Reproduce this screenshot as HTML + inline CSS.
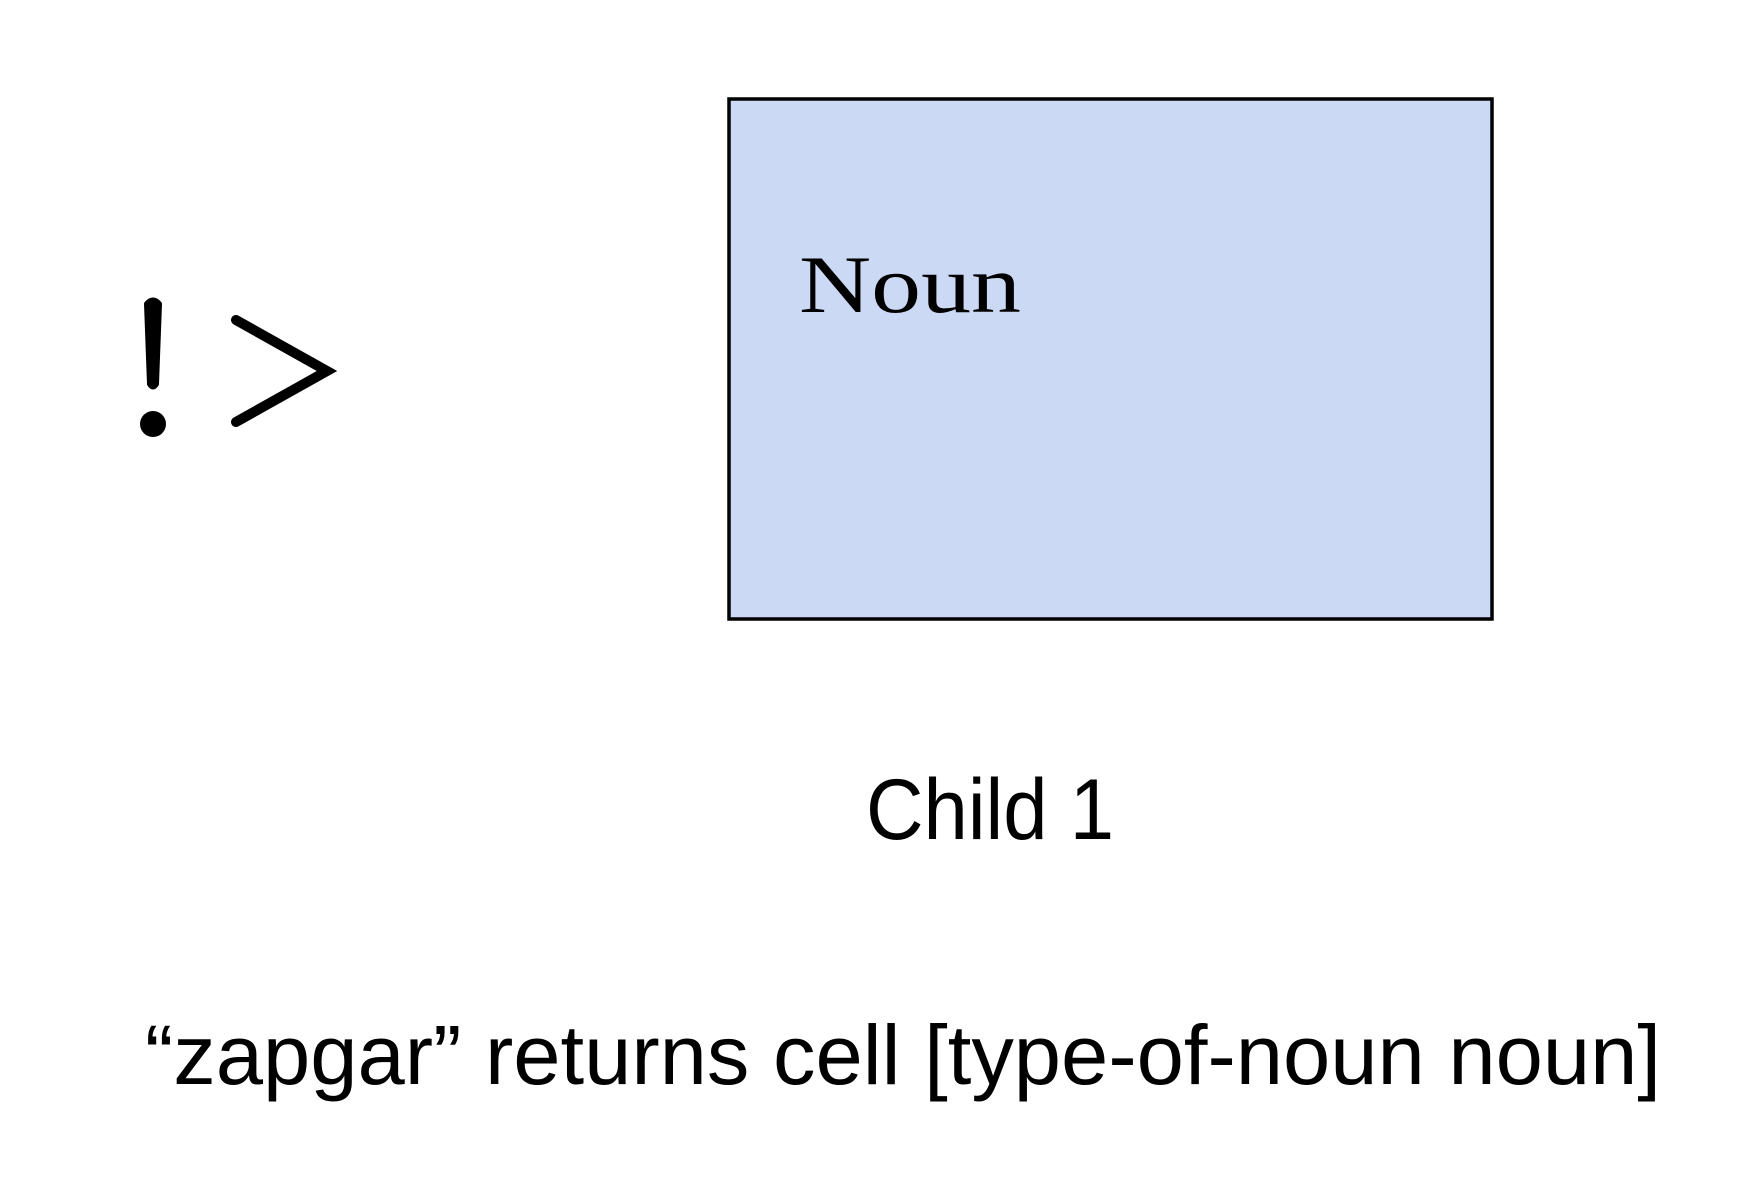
<!DOCTYPE html>
<html><head><meta charset="utf-8"><style>
html,body{margin:0;padding:0;background:#fff;}
svg{display:block;}
.mono{font-family:"Liberation Serif",serif;}
.sans{font-family:"Liberation Sans",Arial,sans-serif;}
</style></head><body>
<svg width="1742" height="1190" viewBox="0 0 1742 1190" xmlns="http://www.w3.org/2000/svg">
<rect x="729" y="99" width="763" height="520" fill="#cbd9f4" stroke="#000" stroke-width="3.5"/>
<text class="mono" x="799" y="312" font-size="82" fill="#000" textLength="222" lengthAdjust="spacingAndGlyphs">Noun</text>
<path d="M147,304 Q153,297 159,304 L156,384 Q153,389 150,384 Z" fill="#000" stroke="#000" stroke-width="6" stroke-linejoin="round"/>
<circle cx="153" cy="424" r="13" fill="#000"/>
<polyline points="236,320 327,371 236,422" fill="none" stroke="#000" stroke-width="10" stroke-linecap="round" stroke-linejoin="miter"/>
<text class="sans" x="866" y="839" font-size="86" fill="#000" textLength="248" lengthAdjust="spacingAndGlyphs">Child 1</text>
<text class="sans" x="145" y="1084" font-size="84" fill="#000" textLength="1516" lengthAdjust="spacingAndGlyphs">“zapgar” returns cell [type-of-noun noun]</text>
</svg>
</body></html>
